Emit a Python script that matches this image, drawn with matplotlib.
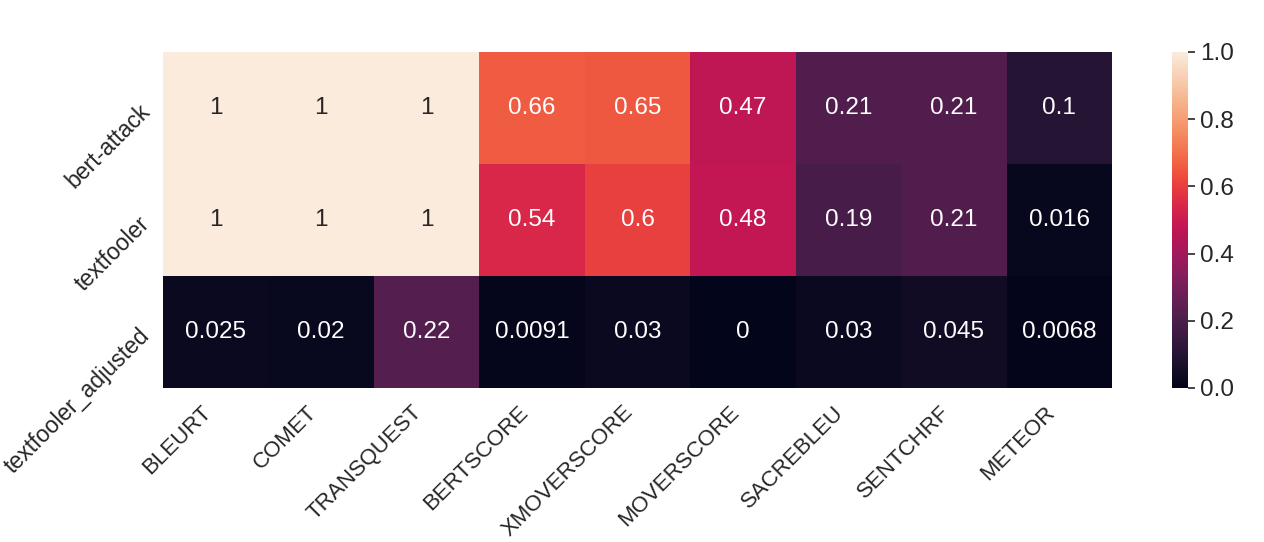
import numpy as np
import matplotlib
matplotlib.use("Agg")
import matplotlib.pyplot as plt
import seaborn as sns

sns.set_theme(style="white")
plt.rcParams['font.family'] = ['Liberation Sans', 'DejaVu Sans']

metrics = ["BLEURT", "COMET", "TRANSQUEST", "BERTSCORE", "XMOVERSCORE",
           "MOVERSCORE", "SACREBLEU", "SENTCHRF", "METEOR"]
attacks = ["bert-attack", "textfooler", "textfooler_adjusted"]
bert_attack = [1, 1, 1, 0.66, 0.65, 0.47, 0.21, 0.21, 0.1]
textfooler = [1, 1, 1, 0.54, 0.6, 0.48, 0.19, 0.21, 0.016]
textfooler_adjusted = [0.025, 0.02, 0.22, 0.0091, 0.03, 0, 0.03, 0.045, 0.0068]

data = np.array([bert_attack, textfooler, textfooler_adjusted])

W, H = 1264, 542
fig = plt.figure(figsize=(W / 100, H / 100), dpi=100)
ax = fig.add_axes([163 / W, 1 - 388 / H, (1112 - 163) / W, (388 - 52) / H])
cax = fig.add_axes([1172 / W, 1 - 388 / H, 16 / W, (388 - 52) / H])

fs = 17.5
xfs = 16
yfs = 16.6
sns.heatmap(data, ax=ax, cbar_ax=cax, cmap="rocket", vmin=0, vmax=1,
            annot=True, fmt=".2g", annot_kws={"size": fs},
            xticklabels=metrics, yticklabels=attacks)

ax.set_xticklabels(metrics, rotation=45, ha="right", fontsize=xfs)
ax.set_yticklabels(attacks, rotation=45, ha="right", rotation_mode="anchor", fontsize=yfs)
ax.tick_params(axis="x", length=0, pad=10)
ax.tick_params(axis="y", length=0, pad=12)
cax.tick_params(labelsize=fs, length=5, width=1.2, color="#262626")
cax.set_yticks([0, 0.2, 0.4, 0.6, 0.8, 1.0])
cax.set_yticklabels(["0.0", "0.2", "0.4", "0.6", "0.8", "1.0"])
for t in ax.get_xticklabels() + ax.get_yticklabels() + cax.get_yticklabels():
    t.set_color("#262626")

fig.savefig("out.png", dpi=100)
